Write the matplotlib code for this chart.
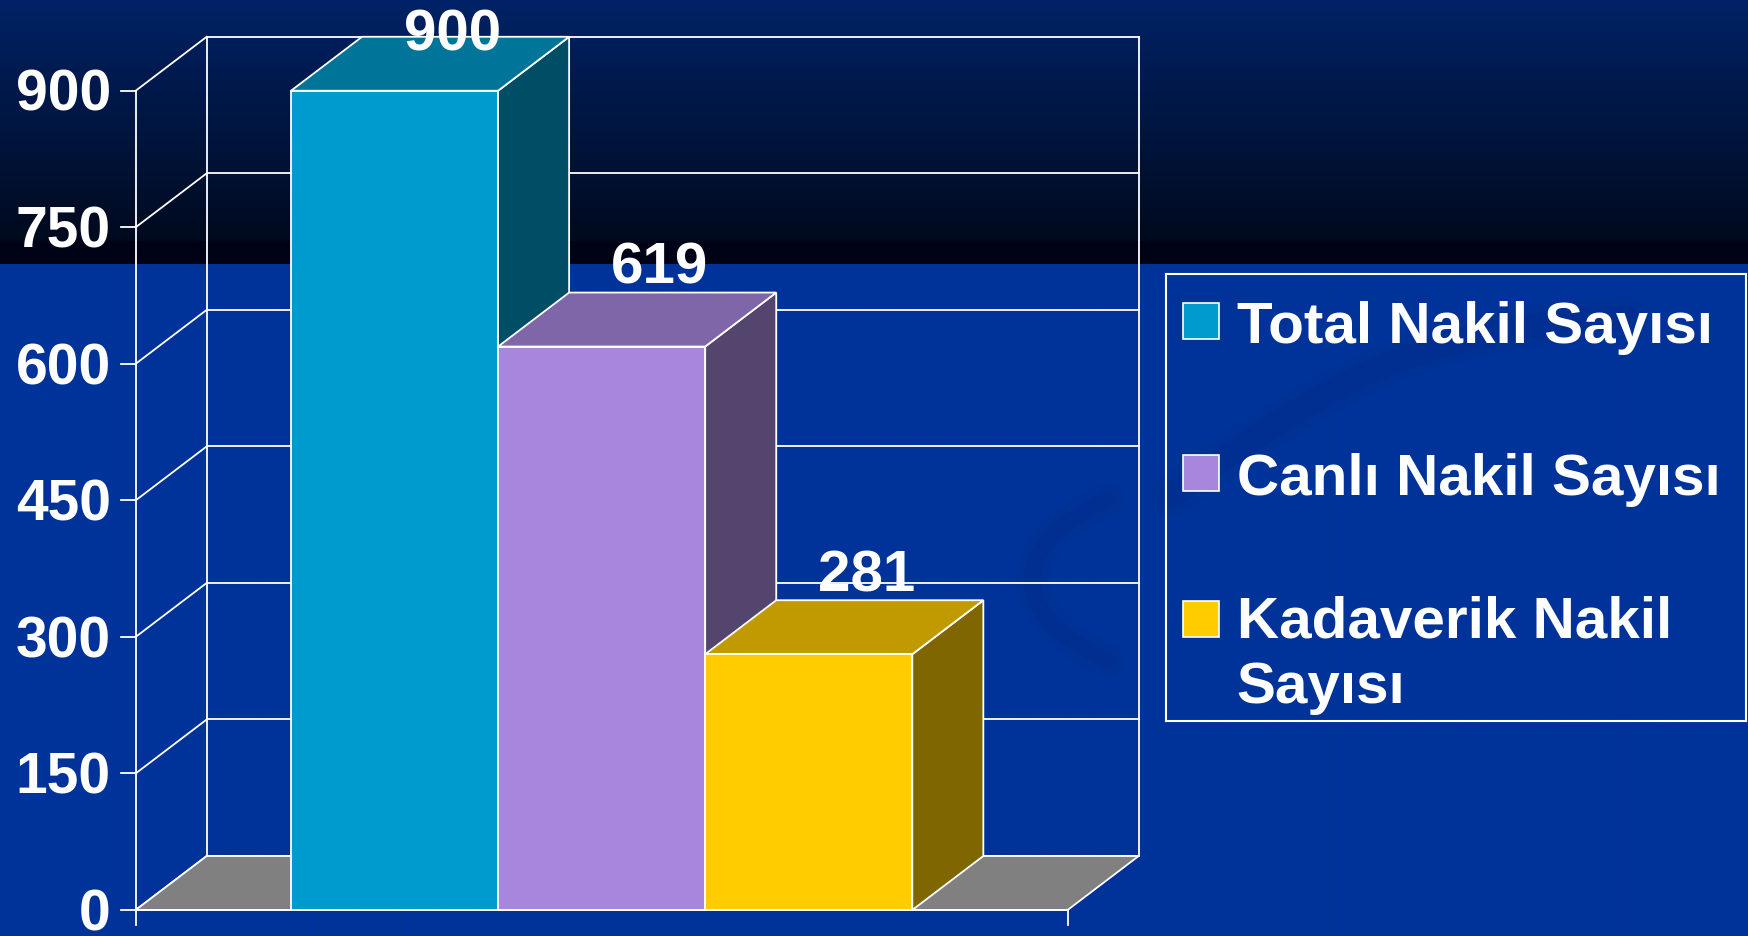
import numpy as np
import matplotlib.pyplot as plt
from matplotlib.patches import Polygon, Rectangle

plt.rcParams['font.family'] = ['Liberation Sans', 'DejaVu Sans']
plt.rcParams['font.weight'] = 'bold'

# data
categories = ['Total Nakil Sayısı', 'Canlı Nakil Sayısı', 'Kadaverik Nakil\nSayısı']
values = [900, 619, 281]
yticks = [0, 150, 300, 450, 600, 750, 900]

front_colors = ['#009BCE', '#A886DE', '#FFCC00']
top_colors = ['#007499', '#7F66A8', '#C09A00']
side_colors = ['#004D66', '#54456F', '#806600']
floor_color = '#808080'

# 3d look: depth offset in category units / value units
dx, dz = 0.343, 59.3
x0, x1 = -1.25, 3.25       # front floor extent
ymax = 900
lw = 1.3
fs = 42

fig = plt.figure(figsize=(17.49, 9.37), dpi=100)

# background: dark gradient band on top, flat blue below
H = 937
img = np.zeros((H, 2, 3))
top = np.array([0, 34, 102]) / 255
bot = np.array([0, 10, 30]) / 255
for r in range(H):
    if r < 242:
        t = r / 241
        img[r] = top * (1 - t) + bot * t
    elif r < 265:
        img[r] = np.array([0, 3, 22]) / 255
    else:
        img[r] = np.array([0, 51, 153]) / 255
bg = fig.add_axes([0, 0, 1, 1], zorder=0)
bg.imshow(img, aspect='auto', extent=(0, 1, 0, 1), interpolation='bilinear')
bg.set_xlim(0, 1)
bg.set_ylim(0, 1)
# faint swooshes of the slide template
t1 = np.linspace(0, 1, 100)
for w, a in [(30, 0.12), (18, 0.18)]:
    bg.plot(0.93 - 0.26 * t1, 0.66 - 0.19 * t1 + 0.05 * np.sin(np.pi * t1),
            color='#002a80', lw=w, alpha=a, solid_capstyle='round')
t2 = np.linspace(-0.9, 0.9, 100)
for w, a in [(24, 0.12), (12, 0.18)]:
    bg.plot(0.64 - 0.05 * np.cos(t2 * 1.6), 0.38 + 0.11 * np.sin(t2),
            color='#002a80', lw=w, alpha=a, solid_capstyle='round')
bg.axis('off')

ax = fig.add_axes([0, 0, 1, 1], zorder=1)
ax.set_xlim(-1.905, 6.540)
ax.set_ylim(-28.56, 1000.8)
ax.axis('off')
ax.patch.set_alpha(0)

# back wall + side wall grid
for v in yticks:
    ax.plot([x0 + dx, x1 + dx], [v + dz, v + dz], color='white', lw=lw, zorder=1)
    ax.plot([x0, x0 + dx], [v, v + dz], color='white', lw=lw, zorder=1)
    ax.plot([x0 - 0.072, x0], [v, v], color='white', lw=lw, zorder=1)
    ax.text(x0 - 0.12, v + 2, str(v), color='white', fontsize=fs - 1, ha='right',
            va='center_baseline', fontweight='bold')
ax.plot([x0 + dx, x0 + dx], [dz, ymax + dz], color='white', lw=lw, zorder=1)
ax.plot([x1 + dx, x1 + dx], [dz, ymax + dz], color='white', lw=lw, zorder=1)

# floor
ax.add_patch(Polygon([(x0, 0), (x1, 0), (x1 + dx, dz), (x0 + dx, dz)], closed=True,
                     facecolor=floor_color, edgecolor='white', lw=lw, zorder=1.5))
ax.plot([x0, x0], [-16.5, ymax], color='white', lw=lw, zorder=1.6)
ax.plot([x1, x1], [-16.5, 0], color='white', lw=lw, zorder=1.6)
ax.plot([x0, x1], [0, 0], color='white', lw=lw, zorder=1.6)

# bars
for i, v in enumerate(values):
    z = 2 + i
    ax.add_patch(Polygon([(i + 0.5, 0), (i + 0.5 + dx, dz), (i + 0.5 + dx, v + dz), (i + 0.5, v)],
                         closed=True, facecolor=side_colors[i], edgecolor='white', lw=lw, zorder=z))
    ax.add_patch(Polygon([(i - 0.5, v), (i + 0.5, v), (i + 0.5 + dx, v + dz), (i - 0.5 + dx, v + dz)],
                         closed=True, facecolor=top_colors[i], edgecolor='white', lw=lw, zorder=z))
    ax.bar(i, v, width=1.0, color=front_colors[i], edgecolor='white', lw=lw, zorder=z)
    ax.text(i + 0.28, min(v + dz + 11, 945), str(v), color='white', fontsize=fs,
            ha='center', va='baseline', fontweight='bold', zorder=10)

# legend box
lax = fig.add_axes([0.6665, 0.2298, 0.3316, 0.4767], zorder=2)
lax.set_xlim(0, 1)
lax.set_ylim(0, 1)
lax.set_xticks([])
lax.set_yticks([])
lax.patch.set_alpha(0)
for s in lax.spines.values():
    s.set_color('white')
    s.set_linewidth(1.5)
mark_y = [0.8948, 0.5545, 0.2277]
line_gap = 0.139
for i, lab in enumerate(categories):
    lax.add_patch(Rectangle((0.0303, mark_y[i] - 0.0403), 0.0621, 0.0806,
                            facecolor=front_colors[i], edgecolor='white', lw=1.2))
    nl = lab.count('\n')
    lax.text(0.1224, mark_y[i] - 0.047 - nl * line_gap, lab, color='white', fontsize=fs,
             ha='left', va='baseline', fontweight='bold', linespacing=1.27)

fig.savefig('out.png', dpi=100)
